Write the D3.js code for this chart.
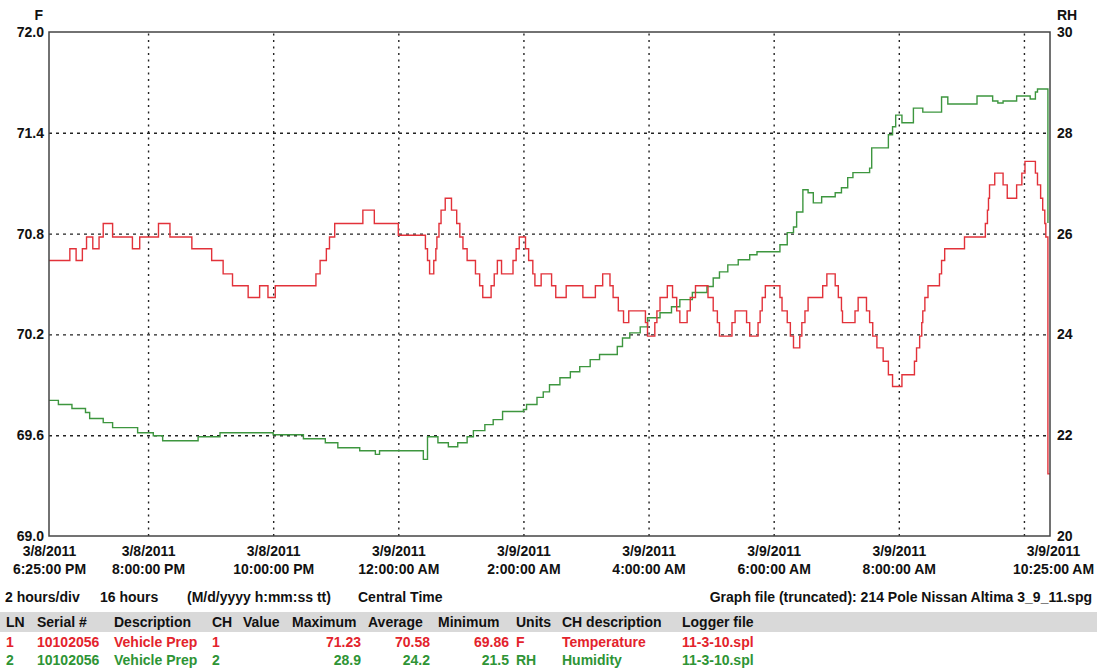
<!DOCTYPE html>
<html>
<head>
<meta charset="utf-8">
<script src="https://cdn.jsdelivr.net/npm/d3@7"></script>
<style>
	body { margin: 0; background: #fff; }
	svg text { font-family: "Liberation Sans", Arial, sans-serif; font-weight: bold; font-size: 14px; fill: #111; }
</style>
</head>
<body>
<div id="chart"></div>
<script>
	// time axis: start of log, grid times, end of log
	var startTime = new Date(2011, 2, 8, 18, 25);
	var endTime = new Date(2011, 2, 9, 10, 25);
	var gridTimes = [new Date(2011, 2, 8, 20, 0), new Date(2011, 2, 8, 22, 0), new Date(2011, 2, 9, 0, 0),
		new Date(2011, 2, 9, 2, 0), new Date(2011, 2, 9, 4, 0), new Date(2011, 2, 9, 6, 0),
		new Date(2011, 2, 9, 8, 0), new Date(2011, 2, 9, 10, 0)];
	var labelTimes = [startTime,
		new Date(2011, 2, 8, 20, 0), new Date(2011, 2, 8, 22, 0), new Date(2011, 2, 9, 0, 0),
		new Date(2011, 2, 9, 2, 0), new Date(2011, 2, 9, 4, 0), new Date(2011, 2, 9, 6, 0),
		new Date(2011, 2, 9, 8, 0), endTime];
	var tempTicks = [69.0, 69.6, 70.2, 70.8, 71.4, 72.0];
	var rhTicks = [20, 22, 24, 26, 28, 30];

	// channel 1: temperature (F), minutes since start
	var tempMinutes = [0, 20, 26, 32, 36, 42, 48, 52, 61, 80, 87, 105, 116, 137, 156, 167, 176, 191, 202, 210,
		217, 256, 260, 266, 269, 274, 301, 312, 335, 361, 363, 365, 369, 371, 372, 374, 376, 380, 386, 391,
		394, 397, 401, 409, 413, 416, 424, 427, 430, 434, 445, 448, 451, 457, 460, 464, 466, 472, 482, 486,
		496, 512, 524, 531, 538, 541, 546, 551, 556, 572, 574, 581, 583, 586, 593, 598, 602, 605, 612, 615,
		620, 632, 637, 641, 643, 655, 658, 669, 672, 680, 682, 684, 687, 701, 703, 708, 711, 714, 720, 722,
		725, 728, 742, 746, 754, 757, 760, 761, 773, 776, 784, 787, 790, 794, 800, 805, 809, 818, 830, 832,
		835, 837, 838, 840, 843, 854, 856, 859, 878, 898, 900, 901, 902, 907, 915, 919, 928, 933, 936, 946,
		948, 951, 953, 955, 956, 958, 960];
	var tempValues = [70.64, 70.71, 70.64, 70.71, 70.78, 70.71, 70.78, 70.86, 70.78, 70.71, 70.78, 70.86, 70.78, 70.71, 70.64, 70.56, 70.49, 70.42, 70.49, 70.42,
		70.49, 70.56, 70.64, 70.71, 70.78, 70.86, 70.94, 70.86, 70.79, 70.71, 70.64, 70.56, 70.64, 70.71, 70.78, 70.86, 70.94, 71.01, 70.94, 70.86,
		70.78, 70.71, 70.64, 70.56, 70.49, 70.42, 70.49, 70.56, 70.64, 70.56, 70.64, 70.71, 70.78, 70.71, 70.64, 70.56, 70.49, 70.56, 70.49, 70.42,
		70.49, 70.42, 70.49, 70.56, 70.49, 70.42, 70.34, 70.27, 70.34, 70.27, 70.19, 70.27, 70.34, 70.42, 70.49, 70.42, 70.34, 70.27, 70.34, 70.42,
		70.49, 70.42, 70.34, 70.27, 70.19, 70.27, 70.34, 70.27, 70.19, 70.27, 70.34, 70.42, 70.49, 70.42, 70.34, 70.27, 70.19, 70.12, 70.19, 70.27,
		70.34, 70.42, 70.49, 70.56, 70.49, 70.42, 70.34, 70.27, 70.34, 70.42, 70.34, 70.27, 70.19, 70.12, 70.04, 69.96, 69.89, 69.96, 70.04, 70.12,
		70.19, 70.27, 70.34, 70.42, 70.49, 70.56, 70.64, 70.71, 70.78, 70.86, 70.94, 71.01, 71.09, 71.16, 71.09, 71.01, 71.09, 71.16, 71.23, 71.16,
		71.09, 71.01, 70.94, 70.86, 70.78, 69.37, 69.37];

	// channel 2: relative humidity (%RH), minutes since start
	var rhMinutes = [0, 9, 22, 35, 39, 52, 61, 85, 100, 109, 143, 164, 215, 244, 265, 277, 298, 313, 317, 359,
		363, 373, 383, 392, 401, 407, 418, 426, 435, 455, 458, 468, 474, 480, 490, 500, 509, 519, 528, 545,
		550, 557, 567, 574, 586, 597, 605, 617, 631, 637, 643, 651, 661, 672, 679, 701, 708, 714, 717, 723,
		728, 733, 741, 754, 760, 766, 771, 787, 789, 805, 809, 812, 818, 829, 838, 856, 862, 890, 905, 910,
		915, 928, 941, 946, 948, 956, 958];
	var rhValues = [22.69, 22.61, 22.53, 22.45, 22.33, 22.25, 22.15, 22.05, 21.99, 21.89, 21.97, 22.05, 22.01, 21.93, 21.85, 21.75, 21.69, 21.62, 21.69, 21.52,
		21.97, 21.85, 21.77, 21.85, 21.97, 22.09, 22.21, 22.31, 22.47, 22.51, 22.61, 22.75, 22.86, 23.00, 23.14, 23.26, 23.36, 23.50, 23.60, 23.76,
		23.93, 24.03, 24.15, 24.33, 24.43, 24.55, 24.69, 24.83, 24.95, 25.12, 25.24, 25.38, 25.48, 25.58, 25.64, 25.78, 26.02, 26.13, 26.43, 26.87,
		26.81, 26.61, 26.73, 26.81, 26.91, 27.11, 27.21, 27.30, 27.70, 27.96, 28.12, 28.35, 28.20, 28.49, 28.41, 28.71, 28.57, 28.73, 28.63, 28.59,
		28.63, 28.73, 28.67, 28.81, 28.87, 28.87, 26.21];

	// table rows
	var tableHeader = ["LN", "Serial #", "Description", "CH", "Value", "Maximum", "Average", "Minimum", "Units", "CH description", "Logger file"];
	var channelRows = [
		["1", "10102056", "Vehicle Prep", "1", "", "71.23", "70.58", "69.86", "F", "Temperature", "11-3-10.spl"],
		["2", "10102056", "Vehicle Prep", "2", "", "28.9", "24.2", "21.5", "RH", "Humidity", "11-3-10.spl"]
	];
	var infoLeft = ["2 hours/div", "16 hours", "(M/d/yyyy h:mm:ss tt)", "Central Time"];
	var infoRight = "Graph file (truncated): 214 Pole Nissan Altima 3_9_11.spg";

	var width = 1097, height = 669;
	var plotLeft = 49, plotRight = 1050, plotTop = 32, plotBottom = 536;
	var colorTemp = "#e2323a", colorRh = "#3d963f";
	var textTemp = "#e3232c", textRh = "#2e9435";

	var svg = d3.select("#chart").append("svg")
		.attr("width", width)
		.attr("height", height);

	svg.append("rect").attr("width", width).attr("height", height).attr("fill", "#fff");

	var xScale = d3.scaleTime().domain([startTime, endTime]).range([plotLeft, plotRight]);
	var yTemp = d3.scaleLinear().domain([69, 72]).range([plotBottom, plotTop]);
	var yRh = d3.scaleLinear().domain([20, 30]).range([plotBottom, plotTop]);

	function toTime(m) { return d3.timeMinute.offset(startTime, m); }

	//grid lines
	svg.append("g")
		.attr("class", "grid")
		.attr("transform", "translate(" + plotLeft + ",0)")
		.call(d3.axisLeft(yTemp).tickValues(tempTicks.slice(1, -1)).tickSize(-(plotRight - plotLeft)).tickFormat(""))
		.call(function (g) { g.select(".domain").remove(); })
		.selectAll("line")
		.attr("stroke", "#222")
		.attr("stroke-width", 1.4)
		.attr("stroke-dasharray", "3,4");

	svg.append("g")
		.attr("class", "grid")
		.attr("transform", "translate(0," + plotBottom + ")")
		.call(d3.axisBottom(xScale).tickValues(gridTimes).tickSize(-(plotBottom - plotTop)).tickFormat(""))
		.call(function (g) { g.select(".domain").remove(); })
		.selectAll("line")
		.attr("stroke", "#222")
		.attr("stroke-width", 1.4)
		.attr("stroke-dasharray", "2,4.5");

	//series
	var tempData = tempMinutes.map(function (m, i) { return { t: toTime(m), v: tempValues[i] }; });
	var rhData = rhMinutes.map(function (m, i) { return { t: toTime(m), v: rhValues[i] }; });

	svg.append("path")
		.datum(rhData)
		.attr("fill", "none")
		.attr("stroke", colorRh)
		.attr("stroke-width", 1.4)
		.attr("d", d3.line().curve(d3.curveStepAfter)
			.x(function (d) { return xScale(d.t); })
			.y(function (d) { return yRh(d.v); }));

	svg.append("path")
		.datum(tempData)
		.attr("fill", "none")
		.attr("stroke", colorTemp)
		.attr("stroke-width", 1.4)
		.attr("d", d3.line().curve(d3.curveStepAfter)
			.x(function (d) { return xScale(d.t); })
			.y(function (d) { return yTemp(d.v); }));

	//frame
	svg.append("rect")
		.attr("x", plotLeft)
		.attr("y", plotTop)
		.attr("width", plotRight - plotLeft)
		.attr("height", plotBottom - plotTop)
		.attr("fill", "none")
		.attr("stroke", "#444")
		.attr("stroke-width", 1.5);

	//axes
	var leftAxis = svg.append("g")
		.attr("transform", "translate(" + plotLeft + ",0)")
		.call(d3.axisLeft(yTemp).tickValues(tempTicks).tickSize(0).tickPadding(5).tickFormat(d3.format(".1f")));
	leftAxis.select(".domain").remove();
	leftAxis.selectAll("text").attr("fill", "#111").style("font-size", "14px");

	var rightAxis = svg.append("g")
		.attr("transform", "translate(" + plotRight + ",0)")
		.call(d3.axisRight(yRh).tickValues(rhTicks).tickSize(0).tickPadding(7).tickFormat(d3.format("d")));
	rightAxis.select(".domain").remove();
	rightAxis.selectAll("text").attr("fill", "#111").style("font-size", "14px");

	svg.append("text").attr("x", 43).attr("y", 20).attr("text-anchor", "end").text("F");
	svg.append("text").attr("x", 1057).attr("y", 20).text("RH");

	var dateFmt = d3.timeFormat("%-m/%-d/%Y");
	var timeFmt = d3.timeFormat("%-I:%M:%S %p");

	var bottomAxis = svg.append("g")
		.attr("transform", "translate(0," + plotBottom + ")")
		.call(d3.axisBottom(xScale).tickValues(labelTimes).tickSize(0).tickFormat(""));
	bottomAxis.select(".domain").remove();
	bottomAxis.selectAll(".tick").each(function (d, i) {
		var dx = i == labelTimes.length - 1 ? 3 : 0;
		var t = d3.select(this).select("text")
			.attr("y", 0)
			.attr("dy", 0)
			.attr("fill", "#111")
			.style("font-size", "14px");
		t.append("tspan").attr("x", dx).attr("y", 20).text(dateFmt(d));
		t.append("tspan").attr("x", dx).attr("y", 38).text(timeFmt(d));
	});

	//info line
	var infoX = [5, 100, 187, 358];
	svg.selectAll(".infoText")
		.data(infoLeft)
		.enter().append("text")
		.attr("class", "infoText")
		.attr("x", function (d, i) { return infoX[i]; })
		.attr("y", 602)
		.text(function (d) { return d; });

	svg.append("text")
		.attr("x", 1092)
		.attr("y", 602)
		.attr("text-anchor", "end")
		.text(infoRight);

	//channel table
	var colX = [6, 37, 114, 212, 243, 292, 368, 438, 516, 562, 682];
	var colValueEnd = { 5: 361, 6: 430, 7: 509 };

	svg.append("rect")
		.attr("x", 0)
		.attr("y", 612)
		.attr("width", width)
		.attr("height", 20)
		.attr("fill", "#d9d9d9");

	svg.selectAll(".headText")
		.data(tableHeader)
		.enter().append("text")
		.attr("class", "headText")
		.attr("x", function (d, i) { return colX[i]; })
		.attr("y", 627)
		.text(function (d) { return d; });

	channelRows.forEach(function (row, r) {
		svg.selectAll(".row" + r)
			.data(row)
			.enter().append("text")
			.attr("class", "row" + r)
			.attr("x", function (d, i) { return colValueEnd[i] ? colValueEnd[i] : colX[i]; })
			.attr("y", 647 + r * 18)
			.attr("text-anchor", function (d, i) { return colValueEnd[i] ? "end" : "start"; })
			.style("fill", r == 0 ? textTemp : textRh)
			.text(function (d) { return d; });
	});
</script>
</body>
</html>
